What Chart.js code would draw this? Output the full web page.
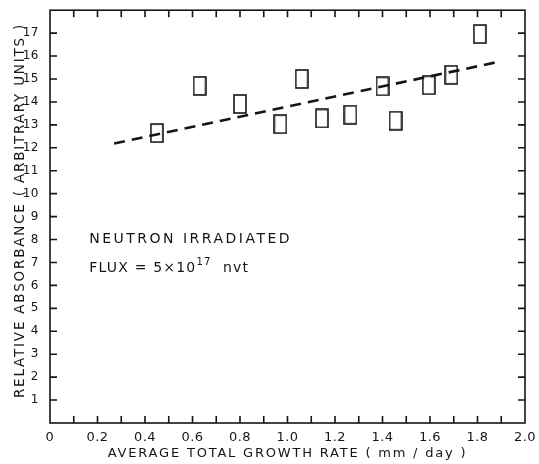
<!DOCTYPE html>
<html>
<head>
<meta charset="utf-8">
<title>Relative absorbance vs growth rate</title>
<script src="https://cdn.jsdelivr.net/npm/chart.js@4/dist/chart.umd.min.js"></script>
<style>
    html, body { margin: 0; padding: 0; background: #fff; }
    #wrap { width: 539px; height: 464px; }
</style>
</head>
<body>
<div id="wrap"><canvas id="chart"></canvas></div>
<script>
// measured points (growth rate in mm/day, absorbance in arbitrary units)
const growthRate = [0.45, 0.63, 0.80, 0.97, 1.06, 1.145, 1.265, 1.40, 1.455, 1.595, 1.69, 1.81]
const absorbance = [12.64, 14.70, 13.91, 13.03, 15.0, 13.28, 13.44, 14.68, 13.18, 14.73, 15.18, 16.96]

// dashed fit line, ends only
const fitRate = [0.27, 1.875]
const fitAbsorbance = [12.19, 15.72]

const xTitle = "AVERAGE TOTAL GROWTH RATE ( mm / day )"
const yTitle = "RELATIVE ABSORBANCE ( ARBITRARY UNITS )"
const noteLines = ["NEUTRON IRRADIATED", "FLUX = 5×10", "17", "  nvt"]

const ink = "#151515"
const font = "'DejaVu Sans', sans-serif"

// tall open box used as the marker
function boxMarker() {
    const c = document.createElement("canvas")
    c.width = 14
    c.height = 20
    const g = c.getContext("2d")
    g.strokeStyle = ink
    g.lineWidth = 1.6
    g.strokeRect(1, 1, 12, 18)
    return c
}

// axis titles get wide lettering, tick labels (drawn after datasets, z 1) a little less
const spacing = {
    id: "spacing",
    beforeDraw(chart) {
        chart.ctx.letterSpacing = "1.8px"
    },
    afterDatasetsDraw(chart) {
        chart.ctx.letterSpacing = "0.5px"
    }
}

// frame with inward ticks on all four sides
const frame = {
    id: "frame",
    afterDraw(chart) {
        const { ctx, chartArea: a, scales: { x, y } } = chart
        const len = 7
        ctx.save()
        ctx.strokeStyle = ink
        ctx.lineWidth = 1.6
        ctx.strokeRect(a.left, a.top, a.right - a.left, a.bottom - a.top)
        ctx.beginPath()
        x.ticks.forEach(t => {
            if (t.value <= 0 || t.value >= 2) return
            const px = x.getPixelForValue(t.value)
            ctx.moveTo(px, a.bottom)
            ctx.lineTo(px, a.bottom - len)
            ctx.moveTo(px, a.top)
            ctx.lineTo(px, a.top + len)
        })
        y.ticks.forEach(t => {
            if (t.value <= 0 || t.value >= 18) return
            const py = y.getPixelForValue(t.value)
            ctx.moveTo(a.left, py)
            ctx.lineTo(a.left + len, py)
            ctx.moveTo(a.right, py)
            ctx.lineTo(a.right - len, py)
        })
        ctx.stroke()
        ctx.restore()
    }
}

const note = {
    id: "note",
    afterDraw(chart) {
        const { ctx, scales: { x, y } } = chart
        const left = x.getPixelForValue(0.165)
        ctx.save()
        ctx.fillStyle = ink
        ctx.textBaseline = "middle"
        ctx.textAlign = "left"
        ctx.font = "14px " + font
        ctx.letterSpacing = "2.5px"
        ctx.fillText(noteLines[0], left, y.getPixelForValue(8.0))
        ctx.letterSpacing = "1.2px"
        const py = y.getPixelForValue(6.75)
        ctx.fillText(noteLines[1], left, py)
        let px = left + ctx.measureText(noteLines[1]).width
        ctx.font = "10px " + font
        ctx.fillText(noteLines[2], px, py - 6)
        px += ctx.measureText(noteLines[2]).width
        ctx.font = "14px " + font
        ctx.fillText(noteLines[3], px, py)
        ctx.restore()
    }
}

new Chart(document.getElementById("chart"), {
    type: "scatter",
    data: {
        datasets: [
            {
                data: growthRate.map((v, i) => ({ x: v, y: absorbance[i] })),
                pointStyle: boxMarker(),
                pointRadius: 8,
                showLine: false
            },
            {
                data: fitRate.map((v, i) => ({ x: v, y: fitAbsorbance[i] })),
                showLine: true,
                borderColor: ink,
                borderWidth: 2.6,
                borderDash: [11, 7],
                pointRadius: 0
            }
        ]
    },
    options: {
        responsive: true,
        maintainAspectRatio: false,
        animation: false,
        events: [],
        layout: { padding: { top: 9, right: 14, left: 0, bottom: 0 } },
        plugins: {
            legend: { display: false },
            tooltip: { enabled: false }
        },
        scales: {
            x: {
                type: "linear",
                min: 0,
                max: 2,
                grid: { display: false },
                border: { display: false },
                afterFit: s => { s.height = 41 },
                ticks: {
                    z: 1,
                    stepSize: 0.1,
                    autoSkip: false,
                    maxRotation: 0,
                    padding: -1,
                    color: ink,
                    font: { family: font, size: 13 },
                    callback: v => Math.round(v * 10) % 2 === 0 ? (v === 0 ? "0" : v.toFixed(1)) : ""
                },
                title: {
                    display: true,
                    text: xTitle,
                    color: ink,
                    padding: { top: 0, bottom: 3 },
                    font: { family: font, size: 13, lineHeight: 1.2 }
                }
            },
            y: {
                min: 0,
                max: 18,
                grid: { display: false },
                border: { display: false },
                afterFit: s => { s.width = 50 },
                ticks: {
                    z: 1,
                    stepSize: 1,
                    autoSkip: false,
                    padding: 3,
                    color: ink,
                    font: { family: font, size: 12 },
                    callback: v => (v >= 1 && v <= 17) ? String(v) : ""
                },
                title: {
                    display: true,
                    // two leading spaces push the centred title a few px up, as in the original
                    text: "  " + yTitle,
                    color: ink,
                    padding: { top: 12, bottom: 0 },
                    font: { family: font, size: 13.5, lineHeight: 1.2 }
                }
            }
        }
    },
    plugins: [spacing, frame, note]
})
</script>
</body>
</html>
